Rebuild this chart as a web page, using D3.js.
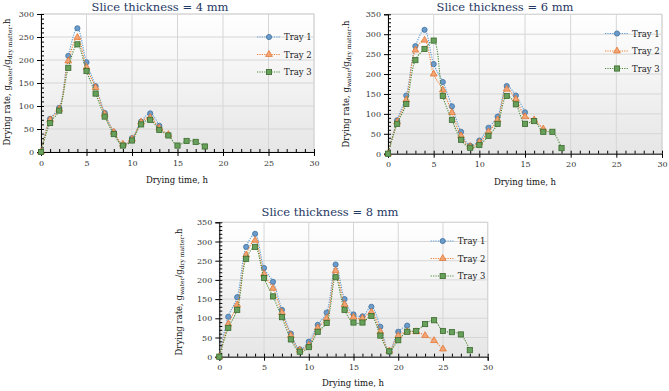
<!DOCTYPE html>
<html>
<head>
<meta charset="utf-8">
<script src="https://cdnjs.cloudflare.com/ajax/libs/d3/7.8.5/d3.min.js"></script>
<style>
  body { margin: 0; background: #fff; }
  svg { display: block; }
  text { font-family: "DejaVu Serif", serif; }
</style>
</head>
<body>
<svg id="chart" width="669" height="391"></svg>
<script>
// drying rate (g water / g dry matter . h), one value per hour starting at 0 h
const trayNames = ['Tray 1', 'Tray 2', 'Tray 3']
const xTicks = [0, 5, 10, 15, 20, 25, 30]

const mm4Tray1 = [0, 72, 96, 209, 269, 195, 143, 85, 43, 15, 30, 66, 84, 57]
const mm4Tray2 = [0, 70, 93, 198, 249, 184, 140, 82, 43, 17, 28, 65, 75, 52, 38]
const mm4Tray3 = [0, 63, 90, 183, 234, 176, 127, 77, 39, 14, 25, 60, 70, 48, 36, 14, 24, 22, 12]

const mm6Tray1 = [0, 84, 146, 270, 311, 225, 180, 119, 55, 20, 33, 65, 93, 170, 146, 104]
const mm6Tray2 = [0, 80, 135, 260, 285, 200, 160, 103, 45, 18, 28, 55, 85, 162, 137, 93, 85, 62]
const mm6Tray3 = [0, 75, 125, 235, 263, 284, 145, 85, 35, 15, 22, 45, 75, 145, 124, 75, 82, 55, 55, 14]

const mm8Tray1 = [0, 104, 155, 286, 320, 231, 195, 122, 60, 19, 39, 83, 115, 240, 150, 110, 105, 130, 78, 13, 65, 81]
const mm8Tray2 = [0, 85, 135, 265, 303, 215, 178, 115, 55, 17, 30, 75, 100, 224, 136, 103, 100, 116, 65, 15, 55, 65, 65, 55, 42, 20]
const mm8Tray3 = [0, 75, 122, 255, 286, 205, 157, 103, 45, 13, 25, 65, 88, 207, 122, 89, 89, 106, 55, 14, 43, 65, 67, 85, 95, 67, 64, 58, 17]

const svg = d3.select('#chart')

// plot background gradient
const grad = svg.append('defs').append('linearGradient')
  .attr('id', 'bg').attr('x1', 0).attr('y1', 0).attr('x2', 0).attr('y2', 1)
grad.append('stop').attr('offset', '0%').attr('stop-color', '#ffffff')
grad.append('stop').attr('offset', '100%').attr('stop-color', '#e6e6e6')

const styles = [
  { line: '#5b9bd5', fill: '#6a9bcb', stroke: '#41719c', shape: 'circle' },
  { line: '#ed7d31', fill: '#f4a474', stroke: '#e0702a', shape: 'triangle' },
  { line: '#4e8a3a', fill: '#67a05a', stroke: '#3b6a2e', shape: 'square' }
]

function drawPanel(p) {
  const x = d3.scaleLinear().domain([0, 30]).range([p.left, p.right])
  const y = d3.scaleLinear().domain([0, p.yMax]).range([p.bottom, p.top])
  const g = svg.append('g')
  const yMajor = d3.range(0, p.yMax + 1, 50)
  const yMinor = d3.range(0, p.yMax + 1, 10)

  g.append('rect')
    .attr('x', p.left).attr('y', p.top)
    .attr('width', p.right - p.left).attr('height', p.bottom - p.top)
    .attr('fill', 'url(#bg)').attr('stroke', '#d4d4d4').attr('stroke-width', 1)

  // grid
  g.selectAll('.hg').data(yMajor.slice(1)).join('line')
    .attr('x1', p.left).attr('x2', p.right)
    .attr('y1', d => y(d)).attr('y2', d => y(d))
    .attr('stroke', '#d6d6d6')
  g.selectAll('.vg').data(xTicks.slice(1)).join('line')
    .attr('x1', d => x(d)).attr('x2', d => x(d))
    .attr('y1', p.top).attr('y2', p.bottom)
    .attr('stroke', '#d6d6d6')

  // y axis
  const ya = g.append('g').attr('transform', `translate(${p.left},0)`)
    .call(d3.axisLeft(y).tickValues(yMajor).tickSize(4).tickPadding(3))
  ya.select('.domain').attr('stroke', '#000')
  ya.selectAll('text').attr('font-size', 8).attr('fill', '#333')
    .attr('font-family', '"DejaVu Serif", serif')
  g.append('g').attr('transform', `translate(${p.left},0)`)
    .call(d3.axisRight(y).tickValues(yMinor).tickSize(3).tickFormat(''))
    .select('.domain').remove()

  // x axis
  const xa = g.append('g').attr('transform', `translate(0,${p.bottom})`)
    .call(d3.axisBottom(x).tickValues(xTicks).tickSize(4).tickPadding(4))
  xa.select('.domain').attr('stroke', '#000')
  xa.selectAll('text').attr('font-size', 8).attr('fill', '#333')
    .attr('font-family', '"DejaVu Serif", serif')
  g.append('g').attr('transform', `translate(0,${p.bottom})`)
    .call(d3.axisTop(x).tickValues(d3.range(0, 31)).tickSize(3).tickFormat(''))
    .select('.domain').remove()

  // series
  const line = d3.line().x((d, i) => x(i)).y(d => y(d)).curve(d3.curveCatmullRom.alpha(0.5))
  p.series.forEach((vals, k) => {
    const s = styles[k]
    g.append('path').datum(vals)
      .attr('d', line).attr('fill', 'none')
      .attr('stroke', s.line).attr('stroke-width', 1.1)
      .attr('stroke-dasharray', '1.2,1.2')
    drawMarkers(g, vals.map((v, i) => [x(i), y(v)]), s)
  })

  // legend
  trayNames.forEach((name, k) => {
    const s = styles[k]
    const ly = p.legTop + k * 17.5
    g.append('line')
      .attr('x1', p.right - 57).attr('x2', p.right - 34)
      .attr('y1', ly).attr('y2', ly)
      .attr('stroke', s.line).attr('stroke-width', 1.1).attr('stroke-dasharray', '1.2,1.2')
    drawMarkers(g, [[p.right - 45, ly]], s)
    g.append('text').attr('x', p.right - 30).attr('y', ly + 3)
      .attr('font-size', 8.5).attr('fill', '#222').text(name)
  })

  // title
  g.append('text').attr('x', p.titleX).attr('y', p.titleY)
    .attr('text-anchor', 'middle').attr('font-size', 11.5).attr('fill', '#1f3864')
    .text(p.title)

  // x label
  g.append('text').attr('x', p.xlabX).attr('y', p.xlabY)
    .attr('text-anchor', 'middle').attr('font-size', 8.5).attr('fill', '#111')
    .text('Drying time, h')

  // y label
  const yl = g.append('text')
    .attr('transform', `translate(${p.ylabX},${p.ylabY}) rotate(-90)`)
    .attr('text-anchor', 'middle').attr('font-size', 8.5).attr('fill', '#111')
  yl.append('tspan').text('Drying rate, g')
  yl.append('tspan').attr('font-size', 6).attr('dy', 2).text('water')
  yl.append('tspan').attr('dy', -2).text('/g')
  yl.append('tspan').attr('font-size', 6).attr('dy', 2).text('dry matter')
  yl.append('tspan').attr('dy', -2).text('.h')
}

function drawMarkers(g, pts, s) {
  if (s.shape === 'circle') {
    g.selectAll(null).data(pts).join('circle')
      .attr('cx', d => d[0]).attr('cy', d => d[1]).attr('r', 2.6)
      .attr('fill', s.fill).attr('stroke', s.stroke).attr('stroke-width', 0.8)
  } else if (s.shape === 'triangle') {
    g.selectAll(null).data(pts).join('path')
      .attr('transform', d => `translate(${d[0]},${d[1]})`)
      .attr('d', d3.symbol(d3.symbolTriangle, 20))
      .attr('fill', s.fill).attr('stroke', s.stroke).attr('stroke-width', 0.7)
  } else {
    g.selectAll(null).data(pts).join('rect')
      .attr('x', d => d[0] - 2.6).attr('y', d => d[1] - 2.6)
      .attr('width', 5.2).attr('height', 5.2)
      .attr('fill', s.fill).attr('stroke', s.stroke).attr('stroke-width', 0.8)
  }
}

drawPanel({
  left: 41, right: 314, top: 14, bottom: 152, yMax: 300,
  series: [mm4Tray1, mm4Tray2, mm4Tray3], legTop: 37,
  title: 'Slice thickness = 4 mm', titleX: 160, titleY: 11,
  xlabX: 177, xlabY: 183, ylabX: 10, ylabY: 82
})
drawPanel({
  left: 388, right: 662, top: 14.3, bottom: 153.7, yMax: 350,
  series: [mm6Tray1, mm6Tray2, mm6Tray3], legTop: 33.5,
  title: 'Slice thickness = 6 mm', titleX: 505, titleY: 11,
  xlabX: 525, xlabY: 185, ylabX: 349, ylabY: 84
})
drawPanel({
  left: 219.3, right: 487.7, top: 222.3, bottom: 356.7, yMax: 350,
  series: [mm8Tray1, mm8Tray2, mm8Tray3], legTop: 241,
  title: 'Slice thickness = 8 mm', titleX: 330, titleY: 216,
  xlabX: 353, xlabY: 386, ylabX: 182, ylabY: 292
})
</script>
</body>
</html>
